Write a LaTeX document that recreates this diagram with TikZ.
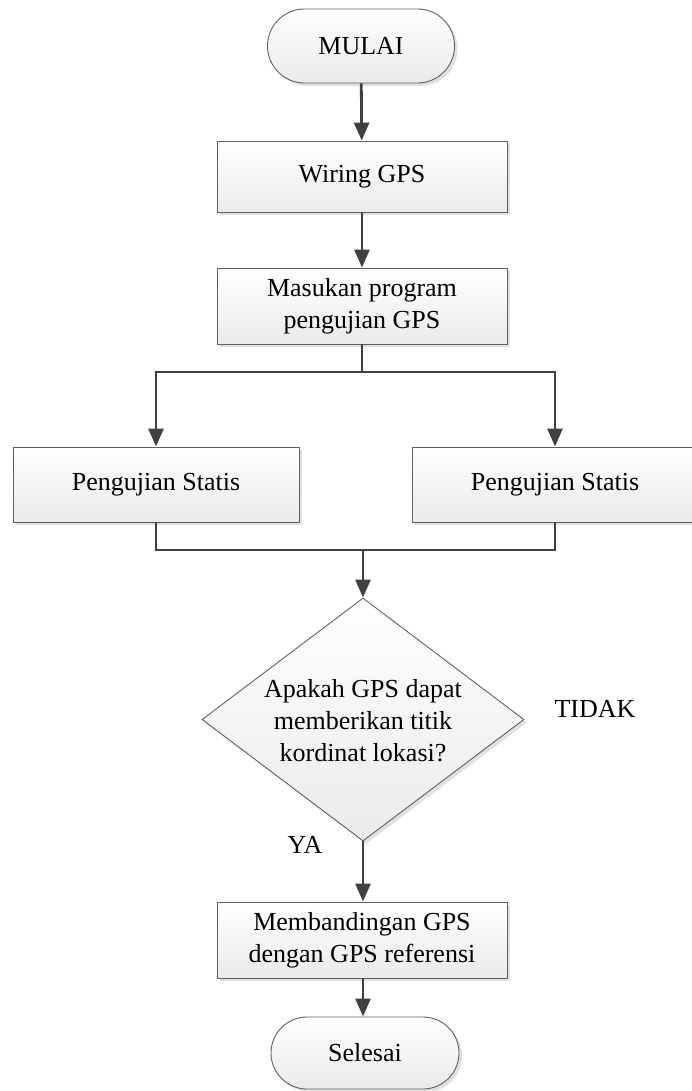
\documentclass[tikz,border=0pt]{standalone}
\usepackage{fontspec}
\setmainfont{Liberation Serif}
\usetikzlibrary{shapes.misc,shapes.geometric,shadows,arrows.meta}
\begin{document}
\begin{tikzpicture}[x=1pt,y=-1pt,
  every node/.style={font=\fontsize{26}{32}\selectfont},
  boxbase/.style={draw=black!62, line width=0.9pt, top color=white, bottom color=black!8,
     drop shadow={shadow xshift=3pt, shadow yshift=-3pt, opacity=1, fill=black!12}, inner sep=0pt},
  procbox/.style={boxbase, rectangle, minimum width=290pt, minimum height=74pt, align=center},
  termbox/.style={boxbase, rounded rectangle, minimum width=187pt, minimum height=74pt},
  decbox/.style={boxbase, diamond, minimum width=322pt, minimum height=243pt},
  conn/.style={draw=black!75, line width=2.8pt},
  arr/.style={conn, -{Triangle[length=18pt,width=15pt]}},
  lbl/.style={inner sep=0pt}
]
\useasboundingbox (0,0) rectangle (691,1091);
\fill[white] (0,0) rectangle (691,1091);

\node[termbox] (mulai) at (361,46) {MULAI};
\node[procbox, minimum height=71pt] (wiring) at (362,176.5) {Wiring GPS};
\node[procbox, minimum height=76pt] (masukan) at (362,306) {Masukan program\\pengujian GPS};
\node[procbox, minimum width=286pt, minimum height=75pt] (ps1) at (156,484.5) {Pengujian Statis};
\node[procbox, minimum width=286pt, minimum height=75pt] (ps2) at (555,484.5) {Pengujian Statis};
\node[decbox] (dec) at (363,719.5) {};
\node[align=center, lbl] (dectext) at (363,721) {Apakah GPS dapat\\memberikan titik\\kordinat lokasi?};
\node[procbox, minimum width=290pt, minimum height=76pt] (banding) at (362,940) {Membandingan GPS\\dengan GPS referensi};
\node[termbox, minimum width=188pt, minimum height=72pt] (selesai) at (365,1053) {Selesai};

\node[lbl] (tidak) at (595,709) {TIDAK};
\node[lbl] (ya) at (305,845) {YA};

\coordinate (branch) at (362,372);
\coordinate (join) at (363,550);

\draw[arr] (mulai) -- (wiring);
\draw[arr] (wiring) -- (masukan);
\draw[conn] (masukan.south) -- (branch);
\draw[arr] (branch) -| (ps1.north);
\draw[arr] (branch) -| (ps2.north);
\draw[conn] (ps1.south) |- (join);
\draw[conn] (ps2.south) |- (join);
\draw[arr] (join) -- (dec.north);
\draw[arr] (dec.south) -- (dec.south |- banding.north);
\draw[arr] (dec.south |- banding.south) -- (dec.south |- selesai.north);
\end{tikzpicture}
\end{document}
